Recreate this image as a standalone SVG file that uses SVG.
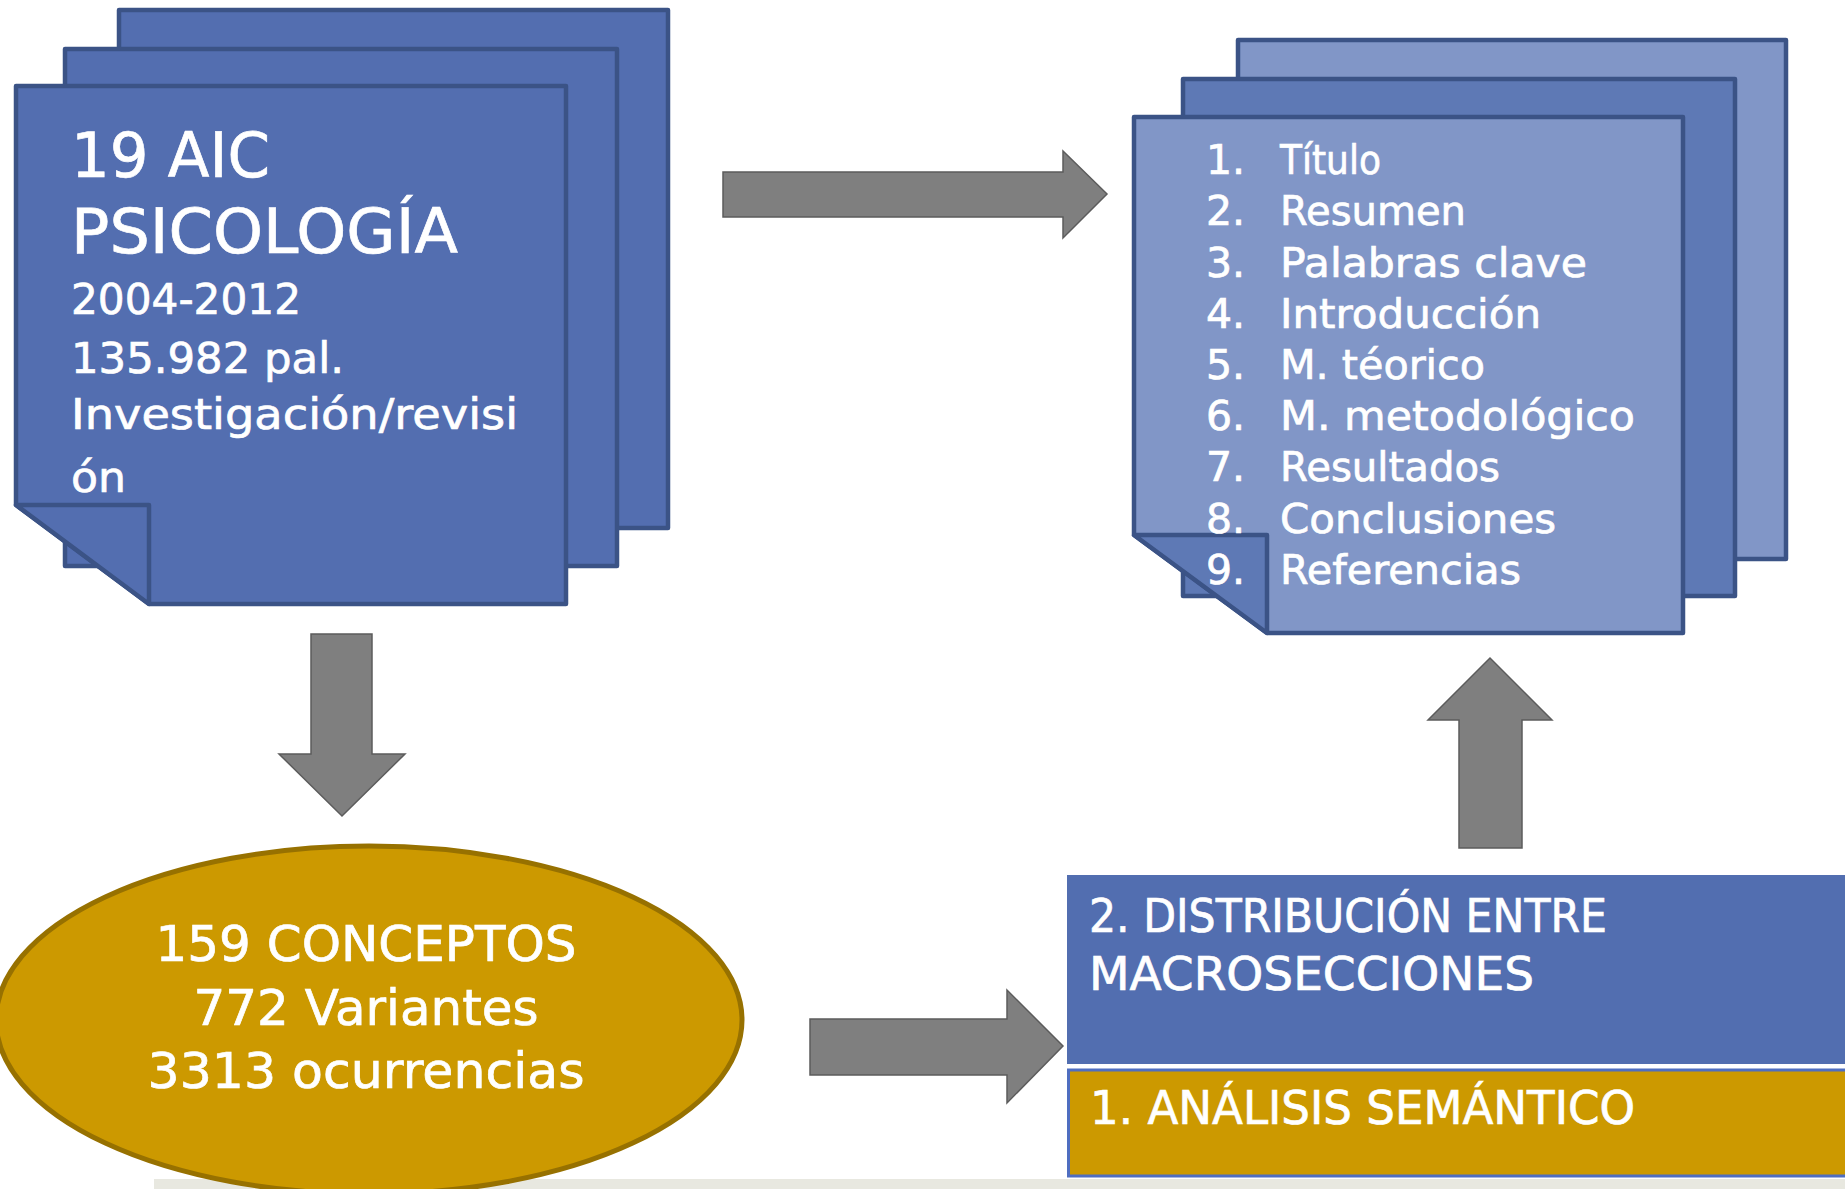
<svg xmlns="http://www.w3.org/2000/svg" width="1845" height="1189" viewBox="0 0 1845 1189">
<defs>
<style>
.pgL{fill:#536EB0;stroke:#3B5386;stroke-width:4.5;stroke-linejoin:round}
.pgR{fill:#8196C7;stroke:#3B5386;stroke-width:4.5;stroke-linejoin:round}
.pgRm{fill:#5E79B5;stroke:#3B5386;stroke-width:4.5;stroke-linejoin:round}
.arr{fill:#7F7F7F;stroke:#5c5c5c;stroke-width:1.5;stroke-linejoin:miter}
.t{font-family:"DejaVu Sans","Liberation Sans",sans-serif;fill:#FFFFFF;stroke:#FFFFFF;stroke-width:0.7}
</style>
</defs>
<rect x="0" y="0" width="1845" height="1189" fill="#FFFFFF"/>
<rect x="154" y="1179" width="1691" height="10" fill="#E8E8E0"/>

<g id="node-left-stack">
<rect class="pgL" x="119" y="10" width="549" height="518"/>
<rect class="pgL" x="65" y="49" width="552" height="517"/>
<path class="pgL" d="M16,86 H566 V604 H149 L16,505 Z"/>
<path class="pgL" d="M16,505 H149 V604 Z"/>
<text class="t" x="71" y="177" font-size="63" textLength="199" lengthAdjust="spacingAndGlyphs">19 AIC</text>
<text class="t" x="71" y="253" font-size="63" textLength="387" lengthAdjust="spacingAndGlyphs">PSICOLOGÍA</text>
<text class="t" x="71" y="314" font-size="43" textLength="230" lengthAdjust="spacingAndGlyphs">2004-2012</text>
<text class="t" x="71" y="373" font-size="43" textLength="273" lengthAdjust="spacingAndGlyphs">135.982 pal.</text>
<text class="t" x="71" y="429" font-size="43" textLength="447" lengthAdjust="spacingAndGlyphs">Investigación/revisi</text>
<text class="t" x="71" y="492" font-size="43" textLength="55" lengthAdjust="spacingAndGlyphs">ón</text>
</g>

<g id="node-right-stack">
<rect class="pgR" x="1238" y="40" width="548" height="519"/>
<rect class="pgRm" x="1183" y="79" width="552" height="517"/>
<path class="pgR" d="M1134,117 H1683 V633 H1267 L1134,535 Z"/>
<path class="pgRm" d="M1134,535 H1267 V633 Z"/>
<g class="t" font-size="41">
<text x="1206" y="174">1.</text><text x="1280" y="174" textLength="101" lengthAdjust="spacingAndGlyphs">Título</text>
<text x="1206" y="225">2.</text><text x="1280" y="225" textLength="186" lengthAdjust="spacingAndGlyphs">Resumen</text>
<text x="1206" y="277">3.</text><text x="1280" y="277" textLength="307" lengthAdjust="spacingAndGlyphs">Palabras clave</text>
<text x="1206" y="328">4.</text><text x="1280" y="328" textLength="261" lengthAdjust="spacingAndGlyphs">Introducción</text>
<text x="1206" y="379">5.</text><text x="1280" y="379" textLength="205" lengthAdjust="spacingAndGlyphs">M. téorico</text>
<text x="1206" y="430">6.</text><text x="1280" y="430" textLength="355" lengthAdjust="spacingAndGlyphs">M. metodológico</text>
<text x="1206" y="481">7.</text><text x="1280" y="481" textLength="220" lengthAdjust="spacingAndGlyphs">Resultados</text>
<text x="1206" y="533">8.</text><text x="1280" y="533" textLength="276" lengthAdjust="spacingAndGlyphs">Conclusiones</text>
<text x="1206" y="584">9.</text><text x="1280" y="584" textLength="241" lengthAdjust="spacingAndGlyphs">Referencias</text>
</g>
</g>

<g id="node-concepts">
<ellipse cx="369" cy="1020" rx="373" ry="174" fill="#CC9900" stroke="#977100" stroke-width="5"/>
<g class="t" font-size="50" text-anchor="middle">
<text x="366" y="961" textLength="421" lengthAdjust="spacingAndGlyphs">159 CONCEPTOS</text>
<text x="366" y="1025" textLength="345" lengthAdjust="spacingAndGlyphs">772 Variantes</text>
<text x="366" y="1088" textLength="437" lengthAdjust="spacingAndGlyphs">3313 ocurrencias</text>
</g>
</g>

<g id="node-analysis">
<rect x="1067" y="875" width="778" height="189" fill="#526EB0"/>
<rect x="1067" y="1064" width="778" height="6" fill="#FFFFFF"/>
<rect x="1068.5" y="1070" width="778" height="106" fill="#CC9900" stroke="#4F6EC0" stroke-width="3"/>
<g class="t" font-size="46">
<text x="1089" y="932" textLength="518" lengthAdjust="spacingAndGlyphs">2. DISTRIBUCIÓN ENTRE</text>
<text x="1089" y="990" textLength="445" lengthAdjust="spacingAndGlyphs">MACROSECCIONES</text>
<text x="1090" y="1124" textLength="545" lengthAdjust="spacingAndGlyphs">1. ANÁLISIS SEMÁNTICO</text>
</g>
</g>

<g id="connectors">
<path class="arr" d="M723,172 H1063 V151 L1107,194 L1063,238 V217 H723 Z"/>
<path class="arr" d="M311,634 H372 V754 H405 L342,816 L279,754 H311 Z"/>
<path class="arr" d="M810,1019 H1007 V990 L1063,1046 L1007,1103 V1075 H810 Z"/>
<path class="arr" d="M1459,848 V720 H1428 L1490,658 L1552,720 H1522 V848 Z"/>
</g>
</svg>
